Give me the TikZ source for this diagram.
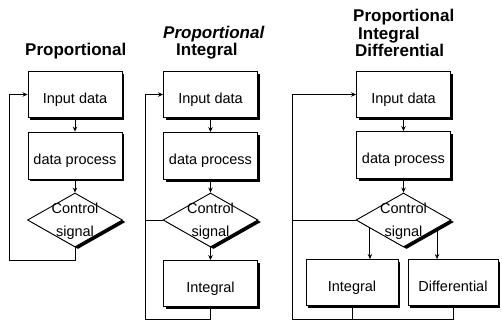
\documentclass[tikz,border=0pt]{standalone}
\usepackage{fontspec}
\setmainfont{Liberation Sans}
\usetikzlibrary{shapes.geometric,arrows.meta,shadows,calc}
\begin{document}
\begin{tikzpicture}[x=1pt,y=-1pt,
  box/.style={draw, line width=0.9pt, fill=white, minimum width=94pt, minimum height=46pt, inner sep=0pt,
    font=\fontsize{14.5}{17}\selectfont, text height=17.4pt, text depth=0pt,
    drop shadow={shadow xshift=2.2pt, shadow yshift=-2pt, fill=black, opacity=1}},
  dia/.style={draw, shape=diamond, line width=0.9pt, fill=white, minimum width=95pt, minimum height=54pt, inner sep=0pt,
    drop shadow={shadow xshift=3pt, shadow yshift=-2pt, fill=black, opacity=1}},
  dtext/.style={font=\fontsize{14.5}{17}\selectfont, anchor=base, inner sep=0pt},
  ttl/.style={font=\fontsize{17}{17}\selectfont\bfseries, anchor=base west, inner sep=0pt},
  ln/.style={line width=0.9pt},
  arr/.style={ln, -{Stealth[length=5pt,width=4.5pt]}}
]
\fill[white] (0,0) rectangle (502,322);
\useasboundingbox (0,0) rectangle (502,322);

% ---------- Panel 1: Proportional
\node[ttl] (t1a) at (25,55.5) {Proportional};
\node[box] (in1) at (75,94.5) {Input data};
\node[box, minimum height=47pt] (pr1) at (75,155.5) {data process};
\node[dia] (d1) at (75,220) {};
\node[dtext] (c1a) at ($(d1.center)+(0,-7)$) {Control};
\node[dtext] (c1b) at ($(d1.center)+(0,16)$) {signal};
\draw[arr] (in1) -- (pr1);
\draw[arr] (pr1) -- (d1);
\coordinate (f1) at (9,260);
\draw[arr] (d1.south) |- (f1) |- (in1.west);

% ---------- Panel 2: Proportional Integral
\node[ttl, font=\fontsize{17}{17}\selectfont\bfseries\itshape] (t2a) at (163,38.5) {Proportional};
\node[ttl] (t2b) at (176,55.5) {Integral};
\node[box] (in2) at (210.5,94.5) {Input data};
\node[box, minimum height=47pt] (pr2) at (210.5,156) {data process};
\node[dia] (d2) at (210.5,220) {};
\node[dtext] (c2a) at ($(d2.center)+(0,-7)$) {Control};
\node[dtext] (c2b) at ($(d2.center)+(0,16)$) {signal};
\node[box] (int2) at (210.5,283.5) {Integral};
\draw[arr] (in2) -- (pr2);
\draw[arr] (pr2) -- (d2);
\draw[arr] (d2) -- (int2);
\coordinate (f2) at (145,319);
\draw[ln] (d2.west) -- (d2.west -| f2);
\draw[arr] (int2.south) |- (f2) |- (in2.west);

% ---------- Panel 3: Proportional Integral Differential
\node[ttl] (t3a) at (353,21.5) {Proportional};
\node[ttl] (t3b) at (358,39) {Integral};
\node[ttl] (t3c) at (355,56.5) {Differential};
\node[box] (in3) at (403.5,94.5) {Input data};
\node[box, minimum height=47pt] (pr3) at (403.5,155) {data process};
\node[dia] (d3) at (403.5,220) {};
\node[dtext] (c3a) at ($(d3.center)+(0,-7)$) {Control};
\node[dtext] (c3b) at ($(d3.center)+(0,16)$) {signal};
\node[box, minimum width=92pt] (int3) at (352,282.5) {Integral};
\node[box, minimum width=90pt] (dif3) at (453,282.5) {Differential};
\draw[arr] (in3) -- (pr3);
\draw[arr] (pr3) -- (d3);
\coordinate (a3) at ($(d3.west)!0.3!(d3.south)$);
\coordinate (b3) at ($(d3.east)!0.3!(d3.south)$);
\draw[arr] (a3) -- (a3 |- int3.north);
\draw[arr] (b3) -- (b3 |- dif3.north);
\coordinate (f3) at (292,319);
\draw[ln] (d3.west) -- (d3.west -| f3);
\draw[ln] (int3.south) -- (int3.south |- f3);
\draw[arr] (dif3.south) |- (f3) |- (in3.west);
\end{tikzpicture}
\end{document}
